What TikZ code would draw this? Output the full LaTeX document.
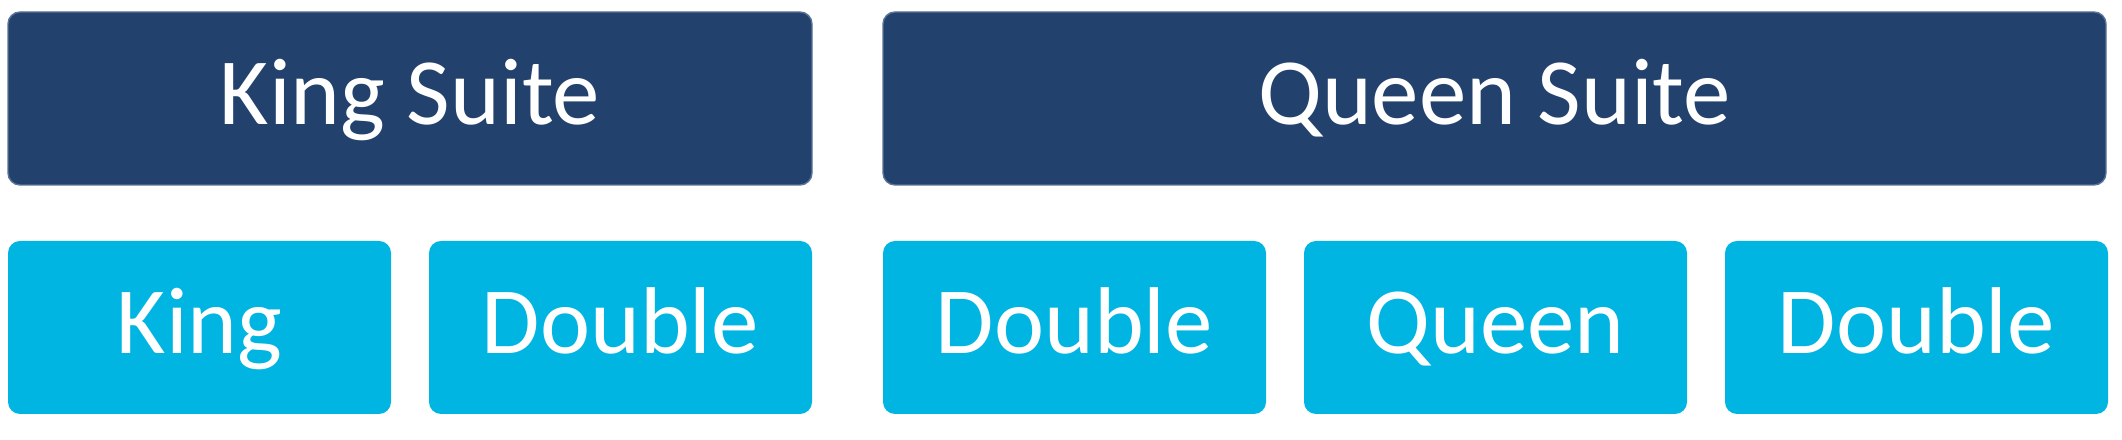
\documentclass[tikz,border=0pt]{standalone}
\usepackage{fontspec}
\setmainfont{Carlito}
\usetikzlibrary{positioning}
\definecolor{suiteblue}{HTML}{22426D}
\definecolor{suiteedge}{HTML}{5A7396}
\definecolor{roomblue}{HTML}{00B5E2}
\tikzset{
  box/.style={rounded corners=0.12cm, inner sep=0pt, outer sep=0pt,
    minimum height=1.73cm, text=white, text height=0.52cm, text depth=0cm,
    font=\fontsize{27}{32}\selectfont},
  suite/.style={box, fill=suiteblue, draw=suiteedge, line width=0.4pt},
  room/.style={box, fill=roomblue, minimum width=3.83cm},
}
\begin{document}
\begin{tikzpicture}
    \useasboundingbox (0,0) rectangle (21.22,-4.40);
    % Suites
    \node[suite, minimum width=8.04cm, anchor=north west] (kingsuite) at (0.08,-0.12) {King Suite};
    \node[suite, minimum width=12.23cm, right=0.71cm of kingsuite] (queensuite) {Queen Suite};
    % Rooms
    \node[room, anchor=north west] (king) at ([yshift=-0.56cm]kingsuite.south west) {King};
    \node[room, right=0.38cm of king] (doublea) {Double};
    \node[room, right=0.71cm of doublea] (doubleb) {Double};
    \node[room, right=0.38cm of doubleb] (queen) {Queen};
    \node[room, right=0.38cm of queen] (doublec) {Double};
\end{tikzpicture}
\end{document}
